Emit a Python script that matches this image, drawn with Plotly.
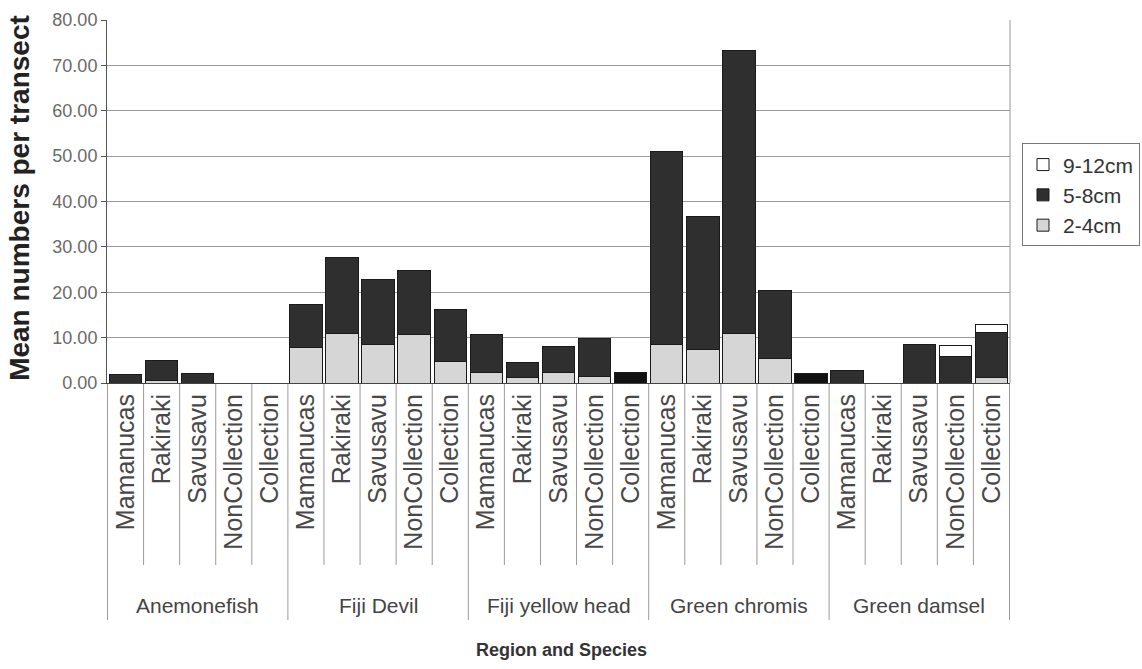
import plotly.graph_objects as go

# Species groups and sampling regions (x categories)
species = ["Anemonefish", "Fiji Devil", "Fiji yellow head", "Green chromis", "Green damsel"]
regions = ["Mamanucas", "Rakiraki", "Savusavu", "NonCollection", "Collection"]

# Mean numbers per transect by size class, in species/region order
size_2_4 = [0.0, 0.6, 0.0, 0.0, 0.0,
            7.8, 11.0, 8.4, 10.7, 4.7,
            2.4, 1.3, 2.4, 1.5, 0.0,
            8.4, 7.3, 10.9, 5.3, 0.0,
            0.0, 0.0, 0.0, 0.0, 1.2]
size_5_8 = [1.8, 4.4, 2.2, 0.0, 0.0,
            9.5, 16.6, 14.5, 14.2, 11.5,
            8.2, 3.3, 5.6, 8.3, 2.4,
            42.7, 29.4, 62.4, 15.1, 2.2,
            2.7, 0.0, 8.5, 5.8, 9.9]
size_9_12 = [0.0, 0.0, 0.0, 0.0, 0.0,
             0.0, 0.0, 0.0, 0.0, 0.0,
             0.0, 0.0, 0.0, 0.0, 0.0,
             0.0, 0.0, 0.0, 0.0, 0.0,
             0.0, 0.0, 0.0, 2.4, 1.8]

y_ticks = [0, 10, 20, 30, 40, 50, 60, 70, 80]

# one category per species/region pair; tick text shows the region only
keys = [f"{s} | {r}" for s in species for r in regions]
tick_text = [r for _ in species for r in regions]

DARK = "#2f2f2f"
BLACK = "#111111"
mid_colors = [BLACK if (k.endswith("| Collection") and k.split(" |")[0] in
                        ("Fiji yellow head", "Green chromis")) else DARK for k in keys]

outline = dict(color="#1a1a1a", width=1)
fig = go.Figure()
fig.add_trace(go.Bar(x=keys, y=size_2_4, name="2-4cm",
                     marker=dict(color="#d6d6d6", line=outline)))
fig.add_trace(go.Bar(x=keys, y=size_5_8, name="5-8cm",
                     marker=dict(color=mid_colors, line=outline)))
fig.add_trace(go.Bar(x=keys, y=size_9_12, name="9-12cm",
                     marker=dict(color="#ffffff", line=outline)))

PLOT_H = 363.0  # plot-area height in px, used to place the label rows below the axis
PLOT_W = 903.0
LABEL_FONT = "Liberation Sans, Arial, sans-serif"

fig.update_layout(
    barmode="stack",
    bargap=0.1,
    width=1142, height=669,
    margin=dict(l=107, r=132, t=20, b=286, autoexpand=False),
    paper_bgcolor="white", plot_bgcolor="white",
    font=dict(family=LABEL_FONT, color="#333333"),
    showlegend=True,
    legend=dict(
        x=(1022 - 107) / PLOT_W, y=0.66, xanchor="left", yanchor="top",
        traceorder="reversed",
        bordercolor="#777777", borderwidth=1,
        font=dict(size=21, color="#333333"),
        itemwidth=30, tracegroupgap=0,
    ),
    xaxis=dict(
        type="category",
        categoryorder="array", categoryarray=keys,
        tickvals=keys, ticktext=tick_text,
        tickangle=-90,
        tickfont=dict(size=25, color="#484848"),
        showline=True, linecolor="#444444", linewidth=1,
        ticks="", showgrid=False,
    ),
    yaxis=dict(
        range=[0, 80],
        tickvals=y_ticks,
        tickformat=".2f",
        tickfont=dict(size=18, color="#6a6a6a"),
        showgrid=True, gridcolor="#9a9a9a", gridwidth=1,
        showline=True, linecolor="#555555", linewidth=1,
        ticks="outside", ticklen=5, tickcolor="#555555",
        zeroline=False,
    ),
)

# boundaries between region columns and between species groups
n = len(keys)
for i in range(n + 1):
    is_group_edge = i % len(regions) == 0
    depth = 237 if is_group_edge else 182
    fig.add_shape(type="line", xref="x", yref="paper",
                  x0=i - 0.5, x1=i - 0.5, y0=0, y1=-depth / PLOT_H,
                  line=dict(color="#9a9a9a", width=1), layer="below")

# right-hand border of the plot area
fig.add_shape(type="line", xref="paper", yref="paper", x0=1, x1=1, y0=0, y1=1,
              line=dict(color="#9a9a9a", width=1))

# species group labels centred under their five columns
for s in species:
    fig.add_annotation(x=f"{s} | {regions[2]}", xref="x", y=-222 / PLOT_H, yref="paper",
                       text=s, showarrow=False, xanchor="center", yanchor="middle",
                       font=dict(size=21, color="#444444", family=LABEL_FONT))

# axis titles
fig.add_annotation(x=(561 - 107) / PLOT_W, xref="paper", y=-267 / PLOT_H, yref="paper",
                   text="<b>Region and Species</b>", showarrow=False,
                   xanchor="center", yanchor="middle",
                   font=dict(size=18, color="#333333", family=LABEL_FONT))
fig.add_annotation(x=-87 / PLOT_W, xref="paper", y=0.51, yref="paper",
                   text="<b>Mean numbers per transect</b>", showarrow=False, textangle=-90,
                   xanchor="center", yanchor="middle",
                   font=dict(size=28, color="#222222", family=LABEL_FONT))

fig.write_html("out.html")
